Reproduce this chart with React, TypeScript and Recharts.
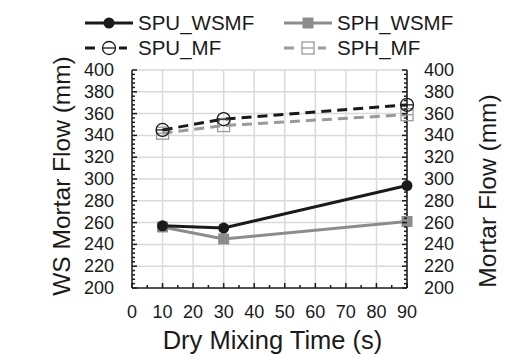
import { LineChart, Line, XAxis, YAxis, CartesianGrid, Label } from 'recharts';

const times = [10, 30, 90];
const spuWsmf = [257, 255, 294];
const sphWsmf = [256, 245, 261];
const spuMf = [345, 355, 368];
const sphMf = [342, 349, 359];

const xTicks = [0, 5, 10, 15, 20, 25, 30, 35, 40, 45, 50, 55, 60, 65, 70, 75, 80, 85, 90];
const xGrid = [10, 20, 30, 40, 50, 60, 70, 80, 90];
const yTicks = Array.from({ length: 51 }, (_, i) => 200 + i * 4);
const yGrid = [220, 240, 260, 280, 300, 320, 340, 360, 380, 400];

const data = times.map((t, i) => ({
  t,
  spuWsmf: spuWsmf[i],
  sphWsmf: sphWsmf[i],
  spuMf: spuMf[i],
  sphMf: sphMf[i],
}));

const BLACK = '#1a1a1a';
const GRAY = '#8c8c8c';
const LGRAY = '#9a9a9a';
const FONT = '"Liberation Sans", Arial, sans-serif';

function XTick(props: any) {
  const { x, y, payload } = props;
  const major = payload.value % 10 === 0;
  return (
    <g>
      <line x1={x} x2={x} y1={y} y2={y - (major ? 5 : 3)} stroke={BLACK} strokeWidth={1.5} />
      {major && (
        <text x={x} y={y + 30} textAnchor="middle" fontSize={18} fill={BLACK} fontFamily={FONT}>
          {payload.value}
        </text>
      )}
    </g>
  );
}

function LeftTick(props: any) {
  const { x, y, payload } = props;
  const major = (payload.value - 200) % 20 === 0;
  return (
    <g>
      <line x1={x} x2={x + (major ? 5 : 3)} y1={y} y2={y} stroke={BLACK} strokeWidth={1.5} />
      {major && (
        <text x={x - 18} y={y + 6} textAnchor="end" fontSize={18} fill={BLACK} fontFamily={FONT}>
          {payload.value}
        </text>
      )}
    </g>
  );
}

function RightTick(props: any) {
  const { x, y, payload } = props;
  const major = (payload.value - 200) % 20 === 0;
  return (
    <g>
      <line x1={x} x2={x - (major ? 5 : 3)} y1={y} y2={y} stroke={BLACK} strokeWidth={1.5} />
      {major && (
        <text x={x + 17} y={y + 6} textAnchor="start" fontSize={18} fill={BLACK} fontFamily={FONT}>
          {payload.value}
        </text>
      )}
    </g>
  );
}

const circleDot = (p: any) => <circle key={p.index} cx={p.cx} cy={p.cy} r={5.5} fill={BLACK} />;
const squareDot = (p: any) => (
  <rect key={p.index} x={p.cx - 5.5} y={p.cy - 5.5} width={11} height={11} fill={GRAY} />
);
const openCircleDot = (p: any) => (
  <g key={p.index}>
    <circle cx={p.cx} cy={p.cy} r={6.5} fill="none" stroke={BLACK} strokeWidth={1.3} />
    <line x1={p.cx - 6.5} x2={p.cx + 6.5} y1={p.cy} y2={p.cy} stroke={BLACK} strokeWidth={1.3} />
  </g>
);
const openSquareDot = (p: any) => (
  <g key={p.index}>
    <rect x={p.cx - 6} y={p.cy - 6} width={12} height={12} fill="none" stroke={LGRAY} strokeWidth={1.3} />
    <line x1={p.cx - 6} x2={p.cx + 6} y1={p.cy} y2={p.cy} stroke={LGRAY} strokeWidth={1.3} />
  </g>
);

function LegendBox() {
  const items = [
    { name: 'SPU_WSMF', x: 85, y: 23, color: BLACK, dash: undefined, dot: circleDot },
    { name: 'SPH_WSMF', x: 284, y: 23, color: GRAY, dash: undefined, dot: squareDot },
    { name: 'SPU_MF', x: 85, y: 48, color: BLACK, dash: '10 6', dot: openCircleDot },
    { name: 'SPH_MF', x: 284, y: 48, color: LGRAY, dash: '10 6', dot: openSquareDot },
  ];
  return (
    <svg width={506} height={60} style={{ position: 'absolute', left: 0, top: 0 }}>
      {items.map((it) => (
        <g key={it.name}>
          <line
            x1={it.x}
            x2={it.x + 48}
            y1={it.y}
            y2={it.y}
            stroke={it.color}
            strokeWidth={3}
            strokeDasharray={it.dash}
          />
          {it.dash && <rect x={it.x + 14} y={it.y - 8} width={20} height={16} fill="#fff" />}
          {it.dot({ cx: it.x + 24, cy: it.y, index: 0 })}
          <text x={it.x + 53} y={it.y + 7} fontSize={20.5} fill={BLACK} fontFamily={FONT}>
            {it.name}
          </text>
        </g>
      ))}
    </svg>
  );
}

export default function App() {
  return (
    <div style={{ position: 'absolute', left: 0, top: 0, width: 506, height: 354, background: '#fff' }}>
      <LineChart width={506} height={354} data={data} margin={{ top: 70, right: 0, bottom: 0, left: 0 }}>
        <CartesianGrid
          yAxisId="left"
          stroke="#d9d9d9"
          strokeWidth={1.5}
          verticalValues={xGrid}
          horizontalValues={yGrid}
        />
        <XAxis
          dataKey="t"
          type="number"
          domain={[0, 90]}
          ticks={xTicks}
          interval={0}
          height={66}
          tickSize={0}
          tickMargin={0}
          tickLine={false}
          tick={<XTick />}
          axisLine={{ stroke: BLACK, strokeWidth: 1.5 }}
        >
          <Label
            value="Dry Mixing Time (s)"
            position="center"
            dy={19}
            dx={3}
            style={{ fontSize: 25.5, fill: BLACK, fontFamily: FONT }}
          />
        </XAxis>
        <YAxis
          yAxisId="left"
          type="number"
          domain={[200, 400]}
          ticks={yTicks}
          interval={0}
          width={132}
          tickSize={0}
          tickMargin={0}
          tickLine={false}
          tick={<LeftTick />}
          axisLine={{ stroke: BLACK, strokeWidth: 1.5 }}
        >
          <Label
            value="WS Mortar Flow (mm)"
            position="center"
            angle={-90}
            dx={-5}
            dy={-3}
            style={{ fontSize: 24.5, fill: BLACK, fontFamily: FONT, textAnchor: 'middle' }}
          />
        </YAxis>
        <YAxis
          yAxisId="right"
          orientation="right"
          type="number"
          domain={[200, 400]}
          ticks={yTicks}
          interval={0}
          width={99}
          tickSize={0}
          tickMargin={0}
          tickLine={false}
          tick={<RightTick />}
          axisLine={{ stroke: BLACK, strokeWidth: 1.5 }}
        >
          <Label
            value="Mortar Flow (mm)"
            position="center"
            angle={-90}
            dx={31}
            dy={12}
            style={{ fontSize: 24.5, fill: BLACK, fontFamily: FONT, textAnchor: 'middle' }}
          />
        </YAxis>
        <Line
          yAxisId="left"
          dataKey="sphWsmf"
          stroke={GRAY}
          strokeWidth={3}
          dot={squareDot}
          isAnimationActive={false}
        />
        <Line
          yAxisId="left"
          dataKey="spuWsmf"
          stroke={BLACK}
          strokeWidth={3}
          dot={circleDot}
          isAnimationActive={false}
        />
        <Line
          yAxisId="right"
          dataKey="sphMf"
          stroke={LGRAY}
          strokeWidth={3}
          strokeDasharray="10 6"
          dot={openSquareDot}
          isAnimationActive={false}
        />
        <Line
          yAxisId="right"
          dataKey="spuMf"
          stroke={BLACK}
          strokeWidth={3}
          strokeDasharray="10 6"
          dot={openCircleDot}
          isAnimationActive={false}
        />
      </LineChart>
      <LegendBox />
    </div>
  );
}
